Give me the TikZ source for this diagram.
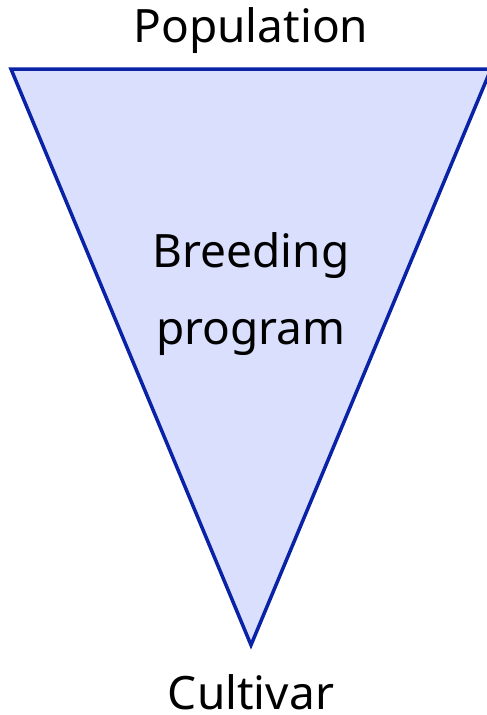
\documentclass[tikz,border=0pt]{standalone}
\usepackage{fontspec}
\setmainfont{Noto Sans}
\definecolor{funnelline}{HTML}{0A22A6}
\definecolor{funnelfill}{HTML}{D9DFFC}
\tikzset{
  funnel/.style={draw=funnelline, fill=funnelfill, line width=3.5pt, line join=miter},
  lbl/.style={font=\fontsize{46}{77}\selectfont, align=center, inner sep=0pt}
}
\begin{document}
\begin{tikzpicture}[x=1pt, y=-1pt]
  \useasboundingbox (0,0) rectangle (487,715);
  \coordinate (tl) at (11,69);
  \coordinate (tr) at (491,69);
  \coordinate (tip) at (251,645);
  \draw[funnel] (tl) -- (tr) -- (tip) -- cycle;
  \node[lbl] (pop) at (251,31) {Population};
  \node[lbl] (prog) at (251,294) {Breeding\\program};
  \node[lbl] (cult) at (251,692) {Cultivar};
\end{tikzpicture}
\end{document}
